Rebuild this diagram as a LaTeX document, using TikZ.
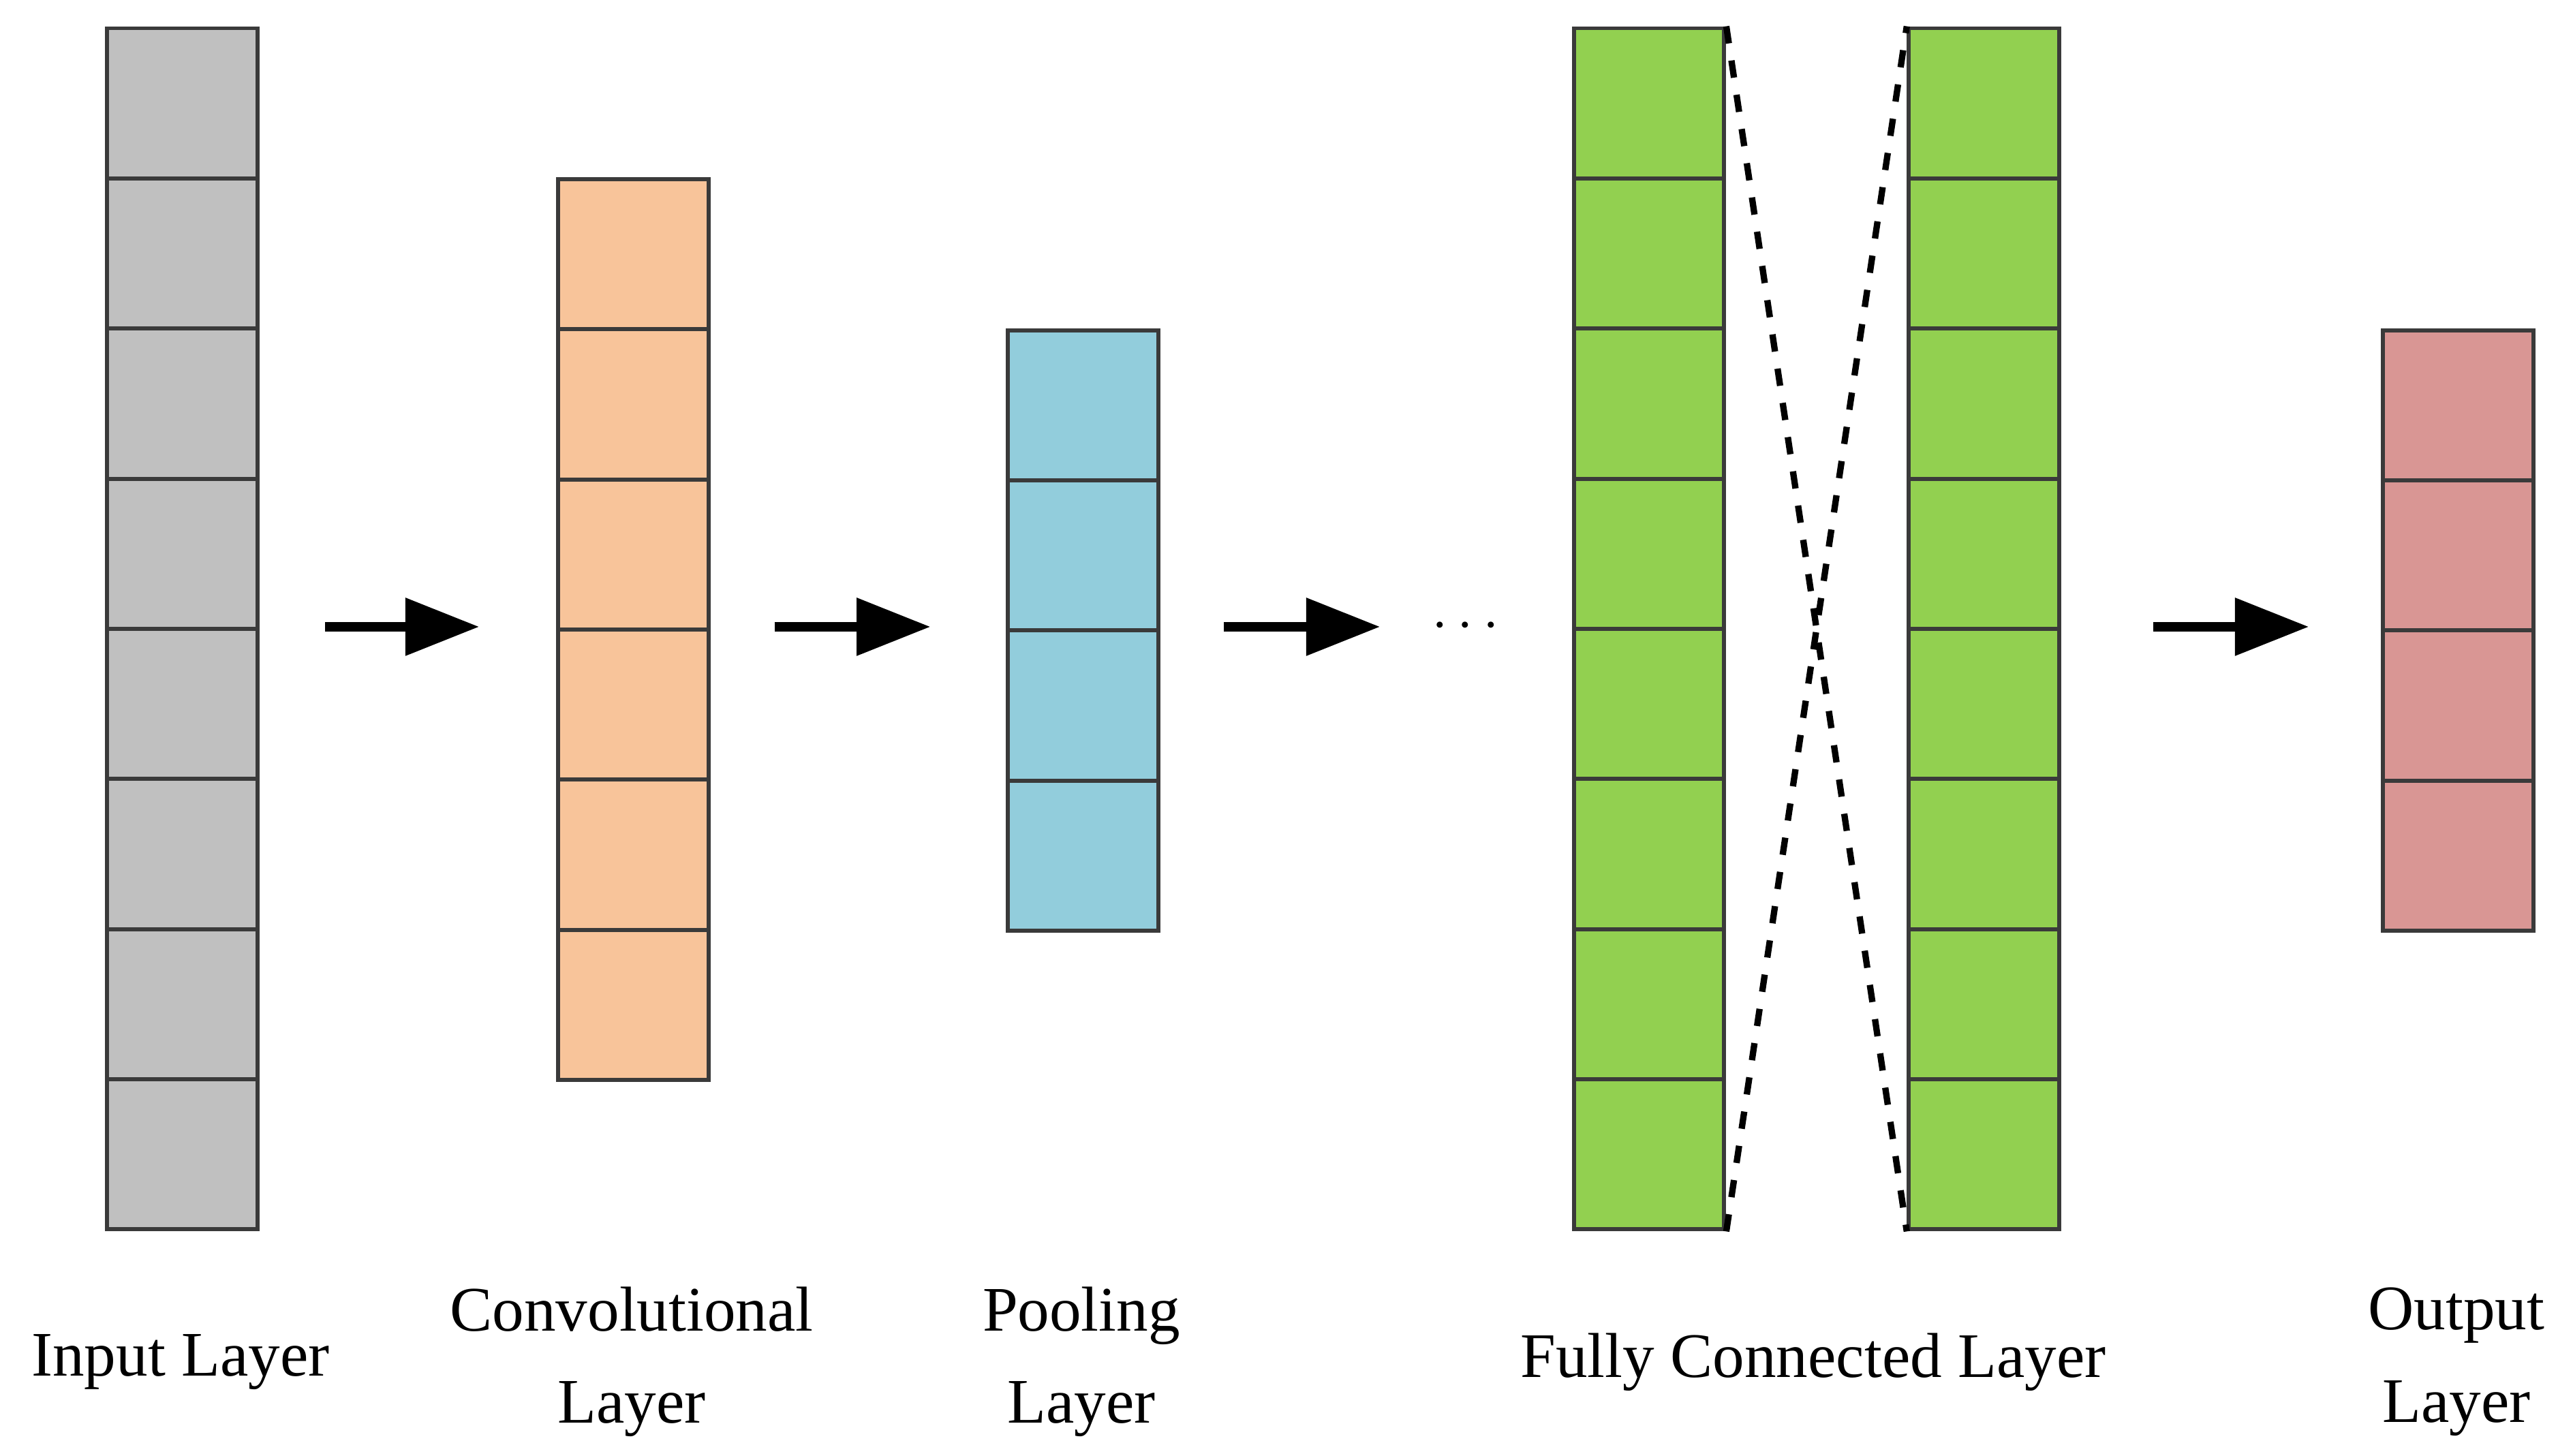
\documentclass[tikz,border=0pt]{standalone}
\usepackage{fontspec}
\setmainfont{Liberation Serif}
\usetikzlibrary{arrows.meta}
\definecolor{cgray}{HTML}{C0C0C0}
\definecolor{corange}{HTML}{F8C49A}
\definecolor{cblue}{HTML}{92CDDC}
\definecolor{cgreen}{HTML}{92D050}
\definecolor{cred}{HTML}{D99694}
\definecolor{cedge}{HTML}{3A3A3A}
\begin{document}
\begin{tikzpicture}[x=0.01cm,y=-0.01cm,
  cell/.style={draw=cedge,line width=0.7pt,minimum width=0.915cm,minimum height=0.915cm,inner sep=0pt,anchor=north west},
  flow/.style={line width=1.6pt,-{Triangle[length=0.45cm,width=0.34cm]}},
  lbl/.style={font=\fontsize{11pt}{16pt}\selectfont,align=center}]
\useasboundingbox (0,0) rectangle (1568,887);
% columns: name, left x, top y, cells, colour
\foreach \n/\x/\y/\k/\c in {in/64/16/8/cgray,cv/339/108/6/corange,pl/613/200/4/cblue,fa/958/16/8/cgreen,fb/1162/16/8/cgreen,out/1451/200/4/cred}{
  \foreach \i in {1,...,\k}{
    \node[cell,fill=\c] (\n\i) at (\x,{\y+(\i-1)*91.5}) {};
  }
}
% arrows
\coordinate (a1) at (198,382); \coordinate (b1) at (292,382);
\coordinate (a2) at (472,382); \coordinate (b2) at (567,382);
\coordinate (a3) at (746,382); \coordinate (b3) at (841,382);
\coordinate (a4) at (1312,382); \coordinate (b4) at (1407,382);
\foreach \i in {1,...,4} \draw[flow] (a\i) -- (b\i);
\node (dots) at (893,382) {$\cdots$};
% full connection
\draw[dashed,line width=1.1pt] (fa1.north east) -- (fb8.south west);
\draw[dashed,line width=1.1pt] (fa8.south east) -- (fb1.north west);
% labels
\node[lbl] (tin) at (110,830) {Input Layer};
\node[lbl] (tcv) at (385,830) {Convolutional\\Layer};
\node[lbl] (tpl) at (659,830) {Pooling\\Layer};
\node[lbl] (tfc) at (1105,830) {Fully Connected Layer};
\node[lbl] (tout) at (1497,830) {Output\\Layer};
\end{tikzpicture}
\end{document}
